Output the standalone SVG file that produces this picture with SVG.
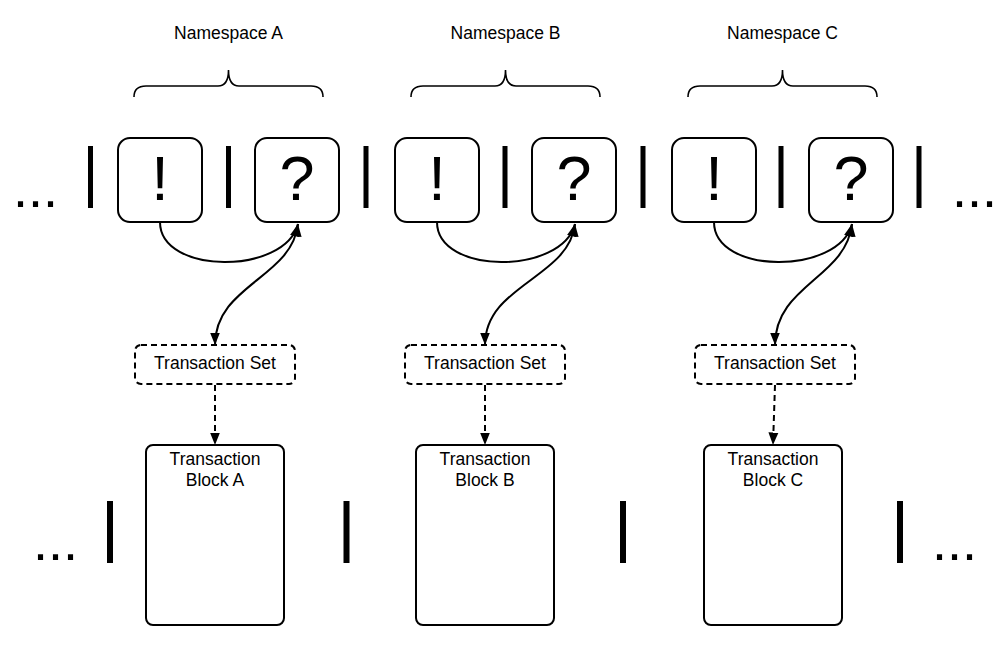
<svg xmlns="http://www.w3.org/2000/svg" width="997" height="647" viewBox="0 0 997 647">
<defs>
<marker id="ah" markerUnits="userSpaceOnUse" markerWidth="14" markerHeight="12" refX="12.5" refY="6" orient="auto-start-reverse">
<path d="M0,1 L12.5,6 L0,11 z" fill="#000"/>
</marker>
<style>
text{font-family:"Liberation Sans",Arial,sans-serif;fill:#000}
.lbl{font-size:17.5px;text-anchor:middle}
.big{font-size:63px;text-anchor:middle}
.dots{font-size:54px}
.box{fill:#fff;stroke:#000;stroke-width:2}
.dash{fill:#fff;stroke:#000;stroke-width:2;stroke-dasharray:6 4}
.brace{fill:none;stroke:#000;stroke-width:1.6}
.bar{fill:#000}
.conn{fill:none;stroke:#000;stroke-width:2}
.dconn{fill:none;stroke:#000;stroke-width:2;stroke-dasharray:6 4}
</style>
</defs>
<rect width="997" height="647" fill="#fff"/>

<g id="separators">
<text class="dots" x="13" y="207">...</text>
<text class="dots" x="952" y="207">...</text>
<text class="dots" x="33" y="560">...</text>
<text class="dots" x="932" y="560">...</text>
<rect class="bar" x="88" y="146" width="5" height="62"/>
<rect class="bar" x="226" y="146" width="5" height="62"/>
<rect class="bar" x="363.5" y="146" width="5" height="62"/>
<rect class="bar" x="502.5" y="146" width="5" height="62"/>
<rect class="bar" x="640.5" y="146" width="5" height="62"/>
<rect class="bar" x="778.5" y="146" width="5" height="62"/>
<rect class="bar" x="916.5" y="146" width="5" height="62"/>
<rect class="bar" x="107" y="501" width="6" height="62"/>
<rect class="bar" x="343.5" y="501" width="6" height="62"/>
<rect class="bar" x="620" y="501" width="6" height="62"/>
<rect class="bar" x="897" y="501" width="6" height="62"/>
</g>

<g id="namespaceA">
<text class="lbl" x="228.5" y="39">Namespace A</text>
<path class="brace" d="M134,97 C134,90 138,86 146,86 H218 C224,86 228.5,82 228.5,70 C228.5,82 233,86 239,86 H311 C319,86 323,90 323,97"/>
</g>
<g id="namespaceB">
<text class="lbl" x="505.5" y="39">Namespace B</text>
<path class="brace" d="M411,97 C411,90 415,86 423,86 H495 C501,86 505.5,82 505.5,70 C505.5,82 510,86 516,86 H588 C596,86 600,90 600,97"/>
</g>
<g id="namespaceC">
<text class="lbl" x="782.5" y="39">Namespace C</text>
<path class="brace" d="M688,97 C688,90 692,86 700,86 H772 C778,86 782.5,82 782.5,70 C782.5,82 787,86 793,86 H865 C873,86 877,90 877,97"/>
</g>

<g id="excA"><rect class="box" x="118" y="138" width="84" height="84" rx="12"/><text class="big" x="160" y="200">!</text></g>
<g id="qA"><rect class="box" x="255" y="138" width="84" height="84" rx="12"/><text class="big" x="297" y="200">?</text></g>
<g id="excB"><rect class="box" x="395" y="138" width="84" height="84" rx="12"/><text class="big" x="437" y="200">!</text></g>
<g id="qB"><rect class="box" x="532" y="138" width="84" height="84" rx="12"/><text class="big" x="574" y="200">?</text></g>
<g id="excC"><rect class="box" x="672" y="138" width="84" height="84" rx="12"/><text class="big" x="714" y="200">!</text></g>
<g id="qC"><rect class="box" x="809" y="138" width="84" height="84" rx="12"/><text class="big" x="851" y="200">?</text></g>

<g id="tsA"><rect class="dash" x="135" y="345" width="160" height="39" rx="6"/><text class="lbl" x="215" y="369">Transaction Set</text></g>
<g id="tsB"><rect class="dash" x="405" y="345" width="160" height="39" rx="6"/><text class="lbl" x="485" y="369">Transaction Set</text></g>
<g id="tsC"><rect class="dash" x="695" y="345" width="160" height="39" rx="6"/><text class="lbl" x="775" y="369">Transaction Set</text></g>

<g id="blockA"><rect class="box" x="146" y="445" width="138" height="180" rx="7"/><text class="lbl" x="215" y="465">Transaction</text><text class="lbl" x="215" y="486">Block A</text></g>
<g id="blockB"><rect class="box" x="416" y="445" width="138" height="180" rx="7"/><text class="lbl" x="485" y="465">Transaction</text><text class="lbl" x="485" y="486">Block B</text></g>
<g id="blockC"><rect class="box" x="704" y="445" width="138" height="180" rx="7"/><text class="lbl" x="773" y="465">Transaction</text><text class="lbl" x="773" y="486">Block C</text></g>

<g id="connectors">
<path class="conn" d="M160,222 C160,275 285,275 298,224" marker-end="url(#ah)"/>
<path class="conn" d="M298,224 C292,278 215,285 215,345" marker-start="url(#ah)" marker-end="url(#ah)"/>
<path class="dconn" d="M215,385 L215,445" marker-end="url(#ah)"/>
<path class="conn" d="M437,222 C437,275 562,275 575,224" marker-end="url(#ah)"/>
<path class="conn" d="M575,224 C569,278 485,285 485,345" marker-start="url(#ah)" marker-end="url(#ah)"/>
<path class="dconn" d="M485,385 L485,445" marker-end="url(#ah)"/>
<path class="conn" d="M714,222 C714,275 839,275 852,224" marker-end="url(#ah)"/>
<path class="conn" d="M852,224 C846,278 775,285 775,345" marker-start="url(#ah)" marker-end="url(#ah)"/>
<path class="dconn" d="M775,385 L773,445" marker-end="url(#ah)"/>
</g>
</svg>
